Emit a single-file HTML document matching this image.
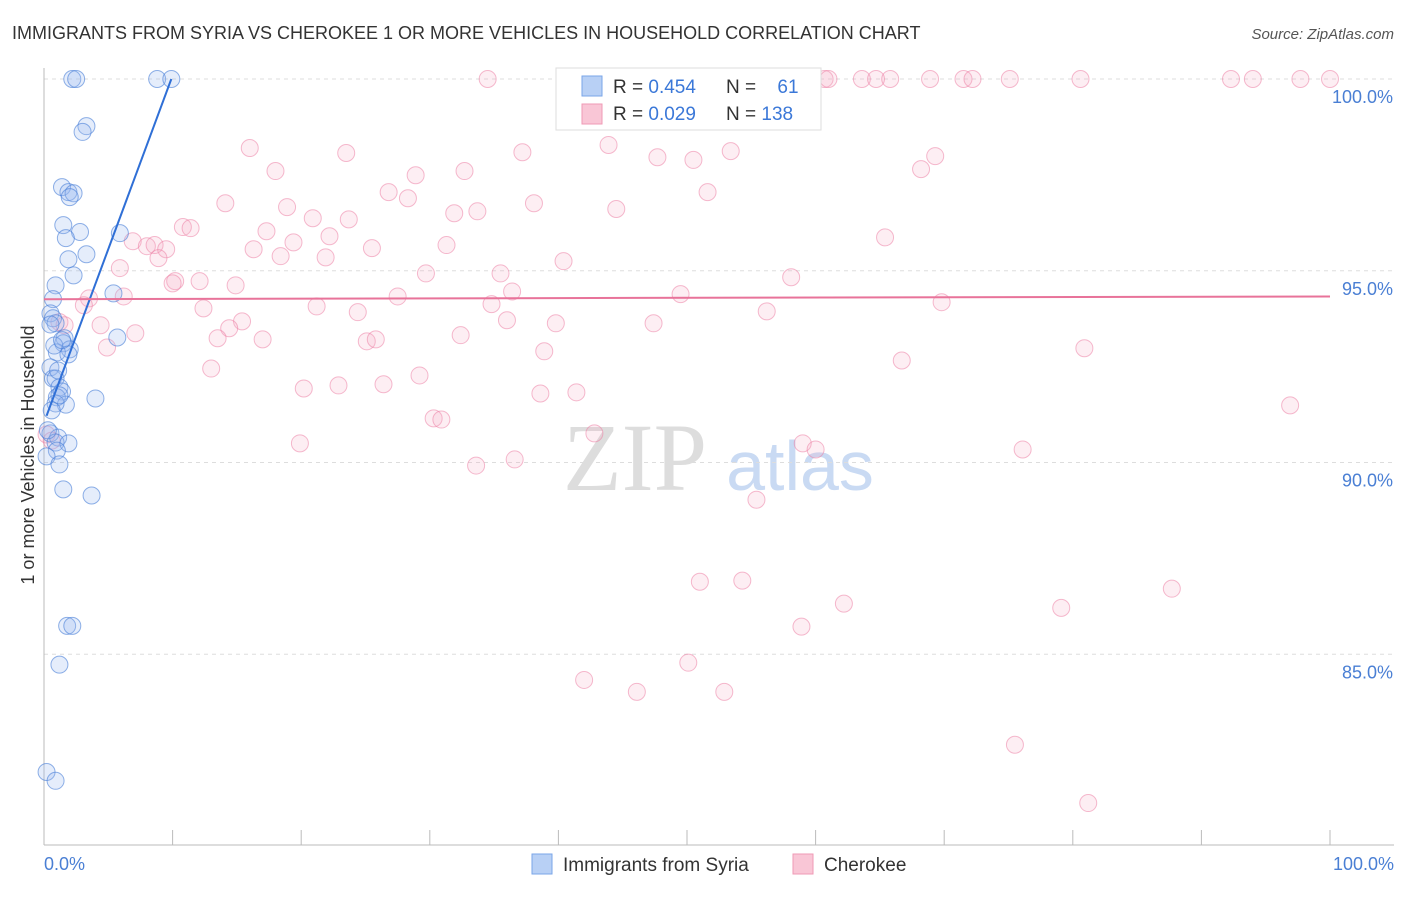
<!DOCTYPE html>
<html><head><meta charset="utf-8"><style>
body{margin:0;background:#fff;font-family:"Liberation Sans",sans-serif}
svg text{font-family:"Liberation Sans",sans-serif}
</style></head><body>
<svg id="c" width="1406" height="892" xmlns="http://www.w3.org/2000/svg">
<text x="12" y="39" font-size="18" fill="#333">IMMIGRANTS FROM SYRIA VS CHEROKEE 1 OR MORE VEHICLES IN HOUSEHOLD CORRELATION CHART</text>
<text x="1394" y="39" font-size="15" fill="#555" font-style="italic" text-anchor="end">Source: ZipAtlas.com</text>
<text x="635" y="490" font-size="96" fill="#ddd" style="font-family:'Liberation Serif',serif" text-anchor="middle">ZIP</text>
<text x="800" y="490" font-size="70" fill="#c9daf3" text-anchor="middle">atlas</text>
<g id="grid"></g><g id="axes"></g><g id="pts"></g><g id="lines"></g>
<text transform="translate(34,455) rotate(-90)" font-size="18" fill="#333" text-anchor="middle">1 or more Vehicles in Household</text>
<text x="44" y="870" font-size="18" fill="#4a7fd4">0.0%</text>
<text x="1394" y="870" font-size="18" fill="#4a7fd4" text-anchor="end">100.0%</text>
<g>
<rect x="556" y="68" width="265" height="62" fill="#fff" stroke="#ddd"/>
<rect x="582" y="76" width="20" height="20" fill="#b8d0f5" stroke="#7aa6e8"/>
<rect x="582" y="104" width="20" height="20" fill="#f9c6d6" stroke="#ef9ab5"/>
<text x="613" y="93" font-size="19" fill="#333">R = <tspan fill="#3b78d8">0.454</tspan></text>
<text x="726" y="93" font-size="19" fill="#333">N = <tspan dx="16" fill="#3b78d8">61</tspan></text>
<text x="613" y="120" font-size="19" fill="#333">R = <tspan fill="#3b78d8">0.029</tspan></text>
<text x="726" y="120" font-size="19" fill="#333">N = <tspan fill="#3b78d8">138</tspan></text>
</g>
<g>
<rect x="532" y="854" width="20" height="20" fill="#b8d0f5" stroke="#7aa6e8"/>
<text x="563" y="871" font-size="19" fill="#333">Immigrants from Syria</text>
<rect x="793" y="854" width="20" height="20" fill="#f9c6d6" stroke="#ef9ab5"/>
<text x="824" y="871" font-size="19" fill="#333">Cherokee</text>
</g>
</svg>
<script>
const yTicks=[100,95,90,85];
const yTickLabels=["100.0%","95.0%","90.0%","85.0%"];
const xTicks=[0,10,20,30,40,50,60,70,80,90,100];
const syriaX=[2.2,2.5,8.8,9.9,3.3,3.0,1.4,1.9,2.3,2.0,1.5,2.8,1.7,3.3,5.9,1.9,2.3,0.9,0.7,5.4,5.7,0.5,0.7,0.9,0.5,1.6,1.5,2.0,1.0,1.9,0.5,0.7,0.9,1.2,1.4,1.0,1.7,4.0,0.9,0.5,1.1,0.9,1.9,1.0,0.2,1.2,1.5,3.7,1.8,2.2,1.2,0.2,0.9,0.3,1.2,0.6,0.8,1.4,1.1];
const syriaY=[100,100,100,100,98.77,98.62,97.18,97.05,97.02,96.92,96.19,96.01,95.85,95.43,95.98,95.3,94.88,94.62,94.26,94.41,93.26,93.89,93.76,93.63,93.6,93.24,93.11,92.95,92.87,92.82,92.48,92.19,92.19,91.96,91.85,91.7,91.51,91.67,91.54,90.76,90.65,90.52,90.5,90.31,90.16,89.95,89.3,89.14,85.74,85.74,84.73,81.93,81.7,90.84,91.75,91.36,93.05,93.19,92.4];
const cherX=[34.5,46.7,52.3,60.7,61.0,63.6,64.7,65.8,68.9,71.5,72.2,75.1,80.6,92.3,94.0,97.7,100,16.0,23.5,37.2,43.9,47.7,50.5,53.4,69.3,68.2,18.0,28.9,32.7,26.8,28.3,51.6,14.1,18.9,20.9,23.7,31.9,33.7,38.1,44.5,10.8,11.4,17.3,22.2,19.4,6.9,8.0,8.6,9.5,16.3,18.4,25.5,31.3,8.9,21.9,40.4,65.4,5.9,29.7,35.5,10.2,12.1,10.0,14.9,58.1,36.4,27.5,49.5,3.5,3.1,6.2,69.8,21.2,34.8,12.4,56.2,24.4,36.0,39.8,47.4,4.4,15.4,7.1,14.4,13.5,17.0,25.1,25.8,32.4,4.9,38.9,66.7,80.9,13.0,20.2,22.9,26.4,29.2,38.6,41.4,96.9,30.3,30.9,19.9,42.8,59.0,60.0,76.1,33.6,36.6,55.4,51.0,54.3,62.2,58.9,79.1,87.7,50.1,42.0,46.1,52.9,75.5,81.2,1.2,1.6,0.2,0.6];
const cherY=[100,100,100,100,100,100,100,100,100,100,100,100,100,100,100,100,100,98.2,98.07,98.09,98.28,97.96,97.89,98.12,97.99,97.65,97.6,97.49,97.6,97.05,96.89,97.05,96.76,96.66,96.37,96.34,96.5,96.55,96.76,96.61,96.14,96.11,96.03,95.9,95.74,95.77,95.64,95.67,95.56,95.56,95.38,95.59,95.67,95.33,95.35,95.25,95.87,95.07,94.93,94.93,94.73,94.73,94.67,94.62,94.83,94.46,94.33,94.39,94.28,94.1,94.33,94.18,94.07,94.13,94.02,93.94,93.92,93.71,93.63,93.63,93.58,93.68,93.37,93.5,93.24,93.21,93.16,93.21,93.32,93.0,92.9,92.66,92.98,92.45,91.93,92.01,92.04,92.27,91.8,91.83,91.49,91.15,91.12,90.5,90.76,90.5,90.34,90.34,89.92,90.08,89.03,86.89,86.92,86.32,85.72,86.21,86.71,84.78,84.33,84.02,84.02,82.64,81.12,93.66,93.58,90.73,90.57];
const NS="http://www.w3.org/2000/svg";
const X0=44,X1=1330,Y100=79,PXPER=38.35;
const sx=v=>X0+(X1-X0)*v/100;
const sy=v=>Y100+(100-v)*PXPER;
function mk(t,a,p){const e=document.createElementNS(NS,t);for(const k in a)e.setAttribute(k,a[k]);p.appendChild(e);return e;}
const grid=document.getElementById('grid'),axes=document.getElementById('axes'),pts=document.getElementById('pts'),lines=document.getElementById('lines');
yTicks.forEach((t,i)=>{
 const l=mk('line',{x1:X0,x2:1394,y1:sy(t),y2:sy(t),stroke:'#ddd','stroke-dasharray':'4,4'},grid);
 
 
 const tx=mk('text',{x:1393,y:sy(t)+24,'font-size':18,fill:'#4a7fd4','text-anchor':'end'},grid);
 tx.textContent=yTickLabels[i];
 
 
});
const ya=mk('line',{x1:X0,x2:X0,y1:68,y2:845,stroke:'#bbb'},axes);


const xa=mk('line',{x1:X0,x2:1394,y1:845,y2:845,stroke:'#bbb'},axes);


xTicks.forEach(t=>{
 const l=mk('line',{x1:sx(t),x2:sx(t),y1:830,y2:845,stroke:'#bbb'},axes);
 
 
});
function series(xs,ys,fill,stroke,name){
 xs.forEach((x,i)=>{
  const c=mk('circle',{cx:sx(x),cy:sy(ys[i]),r:8.5,fill:fill,stroke:stroke,'stroke-width':1},pts);
  
  
 });
}
series(cherX,cherY,'rgba(246,170,196,0.2)','rgba(236,130,165,0.55)','point-cherokee');
series(syriaX,syriaY,'rgba(150,185,240,0.25)','rgba(70,125,215,0.6)','point-syria');
function fit(xs,ys){const n=xs.length;let mx=0,my=0;xs.forEach((x,i)=>{mx+=x;my+=ys[i]});mx/=n;my/=n;let a=0,b=0;xs.forEach((x,i)=>{a+=(x-mx)*(ys[i]-my);b+=(x-mx)**2});const s=a/b;return x=>my+s*(x-mx);}
const fs=fit(syriaX,syriaY),fc=fit(cherX,cherY);
const smin=Math.min(...syriaX),smax=Math.max(...syriaX);
const tl1=mk('line',{x1:sx(smin),y1:sy(fs(smin)),x2:sx(smax),y2:sy(Math.min(100,fs(smax))),stroke:'#2f6fd6','stroke-width':2},lines);


const tl2=mk('line',{x1:sx(0),y1:sy(fc(0)),x2:sx(100),y2:sy(fc(100)),stroke:'#e8739a','stroke-width':2},lines);


</script>
</body></html>
